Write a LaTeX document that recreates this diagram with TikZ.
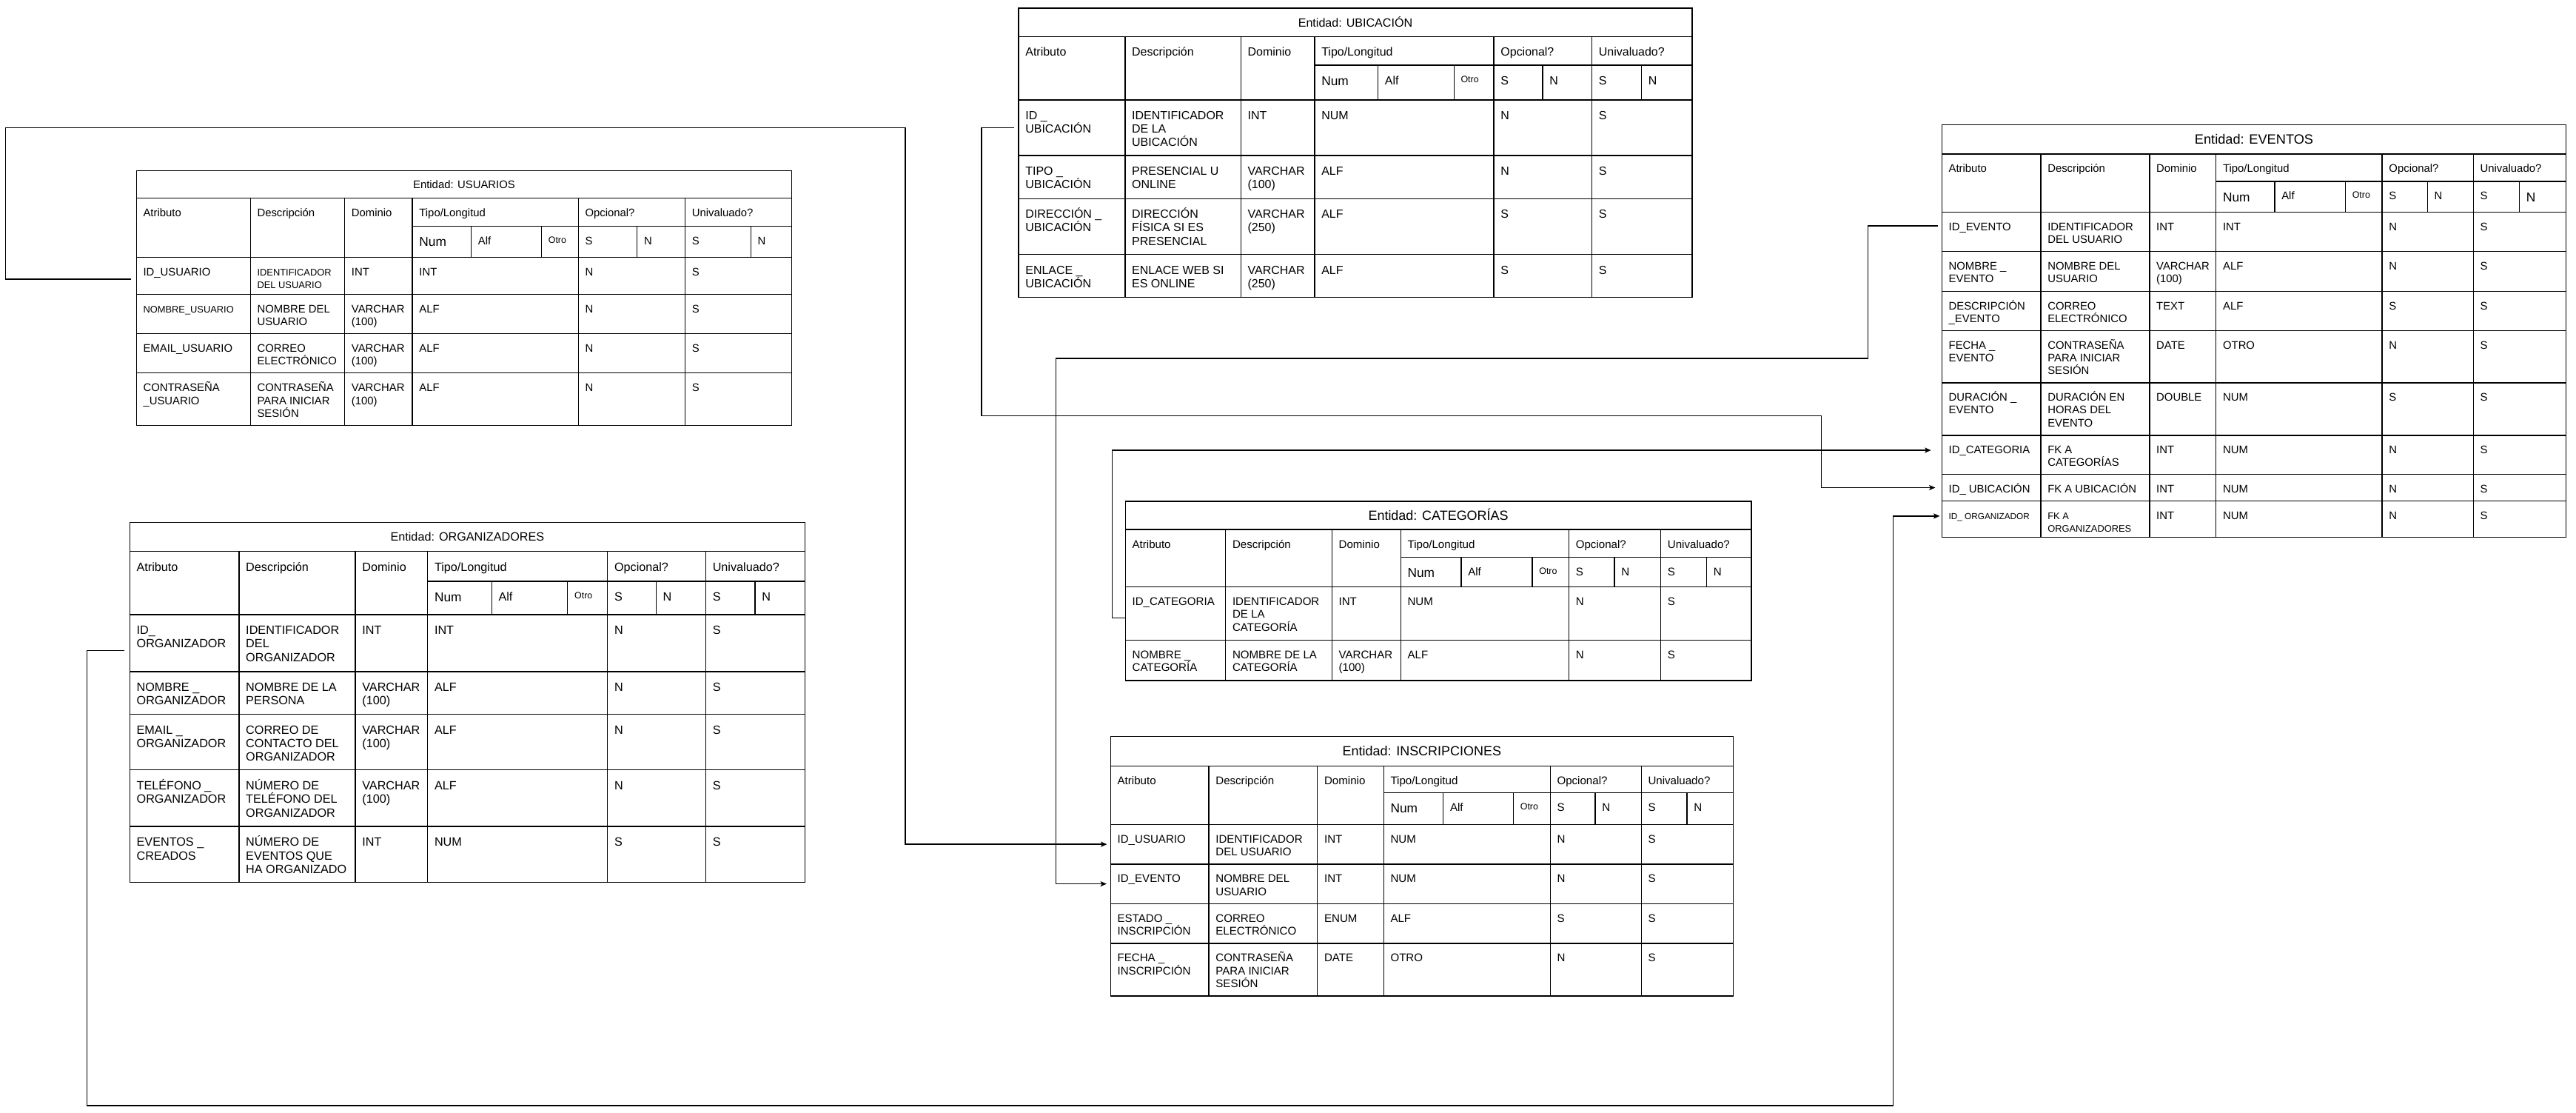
\documentclass[tikz,border=0pt]{standalone}
\usepackage{fontspec}
\setmainfont{Liberation Sans}
\usetikzlibrary{arrows.meta}

% strut that gives every first line the same top
\newcommand\st{\rule{0pt}{.95em}}
% smaller lettering for a few crowded cells
\newcommand\sm{\fontsize{5.8}{6.8}\selectfont}
\newcommand\smo{\fontsize{5.3}{6.3}\selectfont}
\newcommand\numfont{\fontsize{7.8}{9}\selectfont}
\newcommand\otrofont{\fontsize{5.6}{6.5}\selectfont}

% column / row positions of the table being drawn
\newcommand\setcols[7]{\def\XA{#1}\def\XB{#2}\def\XC{#3}\def\XD{#4}\def\XE{#5}\def\XF{#6}\def\XG{#7}}
\newcommand\setsubs[4]{\def\SA{#1}\def\SB{#2}\def\SC{#3}\def\SD{#4}}
\newcommand\setrows[5]{\def\YT{#1}\def\YA{#2}\def\YB{#3}\def\YC{#4}\def\YZ{#5}}
\newcommand\tablefont[3]{\def\tbbody{\fontsize{#1}{#2}\selectfont}\def\tbpad{#3}}

\tikzset{
  grid/.style={line width=0.6pt},
  cell/.style={anchor=north west, inner xsep=4.2pt, inner ysep=\tbpad pt, outer sep=0pt,
               align=left, font=\tbbody, text=black},
  rowbox/.style={anchor=north west, inner sep=0pt, outer sep=0pt},
  tabtitle/.style={anchor=base, inner sep=0pt},
  link/.style={line width=0.6pt, -{Stealth[length=3.8pt,width=3.2pt,inset=0.9pt]}},
}

% frame, title and two header rows of an entity table
\newcommand\entityframe[4]{%
  \draw[grid] (\XA,\YT) rectangle (\XG,\YZ);
  \draw[grid] (\XA,\YA) -- (\XG,\YA) (\XA,\YC) -- (\XG,\YC) (\XD,\YB) -- (\XG,\YB);
  \foreach \cx in {\XB,\XC,\XD,\XE,\XF}{\draw[grid] (\cx,\YA) -- (\cx,\YZ);}
  \foreach \cx in {\SA,\SB,\SC,\SD}{\draw[grid] (\cx,\YB) -- (\cx,\YC);}
  \node[tabtitle] (#1-title) at ({(\XA+\XG)/2},{(\YT+\YA)/2+0.358*#3})
        {\fontsize{#3}{#3}\selectfont Entidad: #2};
  \node[cell] (#1-atr) at (\XA,\YA) {\st Atributo};
  \node[cell] (#1-des) at (\XB,\YA) {\st Descripción};
  \node[cell] (#1-dom) at (\XC,\YA) {\st Dominio};
  \node[cell] (#1-tip) at (\XD,\YA) {\st Tipo/Longitud};
  \node[cell] (#1-opc) at (\XE,\YA) {\st Opcional?};
  \node[cell] (#1-uni) at (\XF,\YA) {\st Univaluado?};
  \node[cell,font=\numfont] (#1-num) at (\XD,\YB) {\st Num};
  \node[cell] (#1-alf) at (\SA,\YB) {\st Alf};
  \node[cell,font=\otrofont] (#1-otr) at (\SB,\YB) {\st Otro};
  \node[cell] (#1-os) at (\XE,\YB) {\st S};
  \node[cell] (#1-on) at (\SC,\YB) {\st N};
  \node[cell] (#1-us) at (\XF,\YB) {\st S};
  \node[cell,#4] (#1-un) at (\SD,\YB) {\st N};
}

% one attribute row: name, top, bottom, then the six cell texts
\newcommand\entrow[9]{%
  \node[rowbox, minimum width={\XG-\XA}, minimum height={#3-#2}] (#1) at (\XA,#2) {};
  \draw[grid] (#1.south west) -- (#1.south east);
  \node[cell] (#1-a) at (\XA,#2) {\st #4};
  \node[cell] (#1-d) at (\XB,#2) {\st #5};
  \node[cell] (#1-m) at (\XC,#2) {\st #6};
  \node[cell] (#1-t) at (\XD,#2) {\st #7};
  \node[cell] (#1-o) at (\XE,#2) {\st #8};
  \node[cell] (#1-u) at (\XF,#2) {\st #9};
}

\begin{document}
\begin{tikzpicture}[x=1pt,y=-1pt]
\fill[white] (0,0) rectangle (1568,676.8);
\useasboundingbox (0,0) rectangle (1568,676.8);

% ---------------- USUARIOS ----------------
\setcols{83}{152.4}{209.8}{251}{352}{417}{482}
\setsubs{286.8}{329.6}{387.8}{457}
\setrows{104}{120.4}{137.6}{156.6}{259}
\tablefont{6.7}{7.8}{4.9}
\entityframe{usr}{USUARIOS}{6.7}{}
\entrow{u1}{156.6}{179}{ID\_USUARIO}{\sm IDENTIFICADOR\\\sm DEL USUARIO}{INT}{INT}{N}{S}
\entrow{u2}{179}{203}{\sm NOMBRE\_USUARIO}{NOMBRE DEL\\USUARIO}{VARCHAR\\(100)}{ALF}{N}{S}
\entrow{u3}{203}{227}{EMAIL\_USUARIO}{CORREO\\ELECTRÓNICO}{VARCHAR\\(100)}{ALF}{N}{S}
\entrow{u4}{227}{259}{CONTRASEÑA\\\_USUARIO}{CONTRASEÑA\\PARA INICIAR\\SESIÓN}{VARCHAR\\(100)}{ALF}{N}{S}

% ---------------- ORGANIZADORES ----------------
\setcols{79}{145.5}{216.3}{260.3}{369.8}{429.6}{490}
\setsubs{299.3}{345.5}{399.3}{459.6}
\setrows{318}{335.5}{353.7}{373.9}{537}
\tablefont{7.3}{8.3}{5.1}
\entityframe{org}{ORGANIZADORES}{7.3}{}
\entrow{o1}{373.9}{408.6}{ID\_\\ORGANIZADOR}{IDENTIFICADOR\\DEL\\ORGANIZADOR}{INT}{INT}{N}{S}
\entrow{o2}{408.6}{434.5}{NOMBRE \_\\ORGANIZADOR}{NOMBRE DE LA\\PERSONA}{VARCHAR\\(100)}{ALF}{N}{S}
\entrow{o3}{434.5}{468.4}{EMAIL \_\\ORGANIZADOR}{CORREO DE\\CONTACTO DEL\\ORGANIZADOR}{VARCHAR\\(100)}{ALF}{N}{S}
\entrow{o4}{468.4}{502.9}{TELÉFONO \_\\ORGANIZADOR}{NÚMERO DE\\TELÉFONO DEL\\ORGANIZADOR}{VARCHAR\\(100)}{ALF}{N}{S}
\entrow{o5}{502.9}{537}{EVENTOS \_\\CREADOS}{NÚMERO DE\\EVENTOS QUE\\HA ORGANIZADO}{INT}{NUM}{S}{S}

% ---------------- UBICACIÓN ----------------
\setcols{620}{684.8}{755.3}{800.2}{909.3}{969}{1030}
\setsubs{838.8}{885}{939}{999.2}
\setrows{5}{22.4}{39.7}{60.8}{181}
\tablefont{7.2}{8.2}{5}
\entityframe{ubi}{UBICACIÓN}{7.25}{}
\entrow{b1}{60.8}{94.6}{ID \_\\UBICACIÓN}{IDENTIFICADOR\\DE LA\\UBICACIÓN}{INT}{NUM}{N}{S}
\entrow{b2}{94.6}{120.9}{TIPO \_\\UBICACIÓN}{PRESENCIAL U\\ONLINE}{VARCHAR\\(100)}{ALF}{N}{S}
\entrow{b3}{120.9}{154.9}{DIRECCIÓN \_\\UBICACIÓN}{DIRECCIÓN\\FÍSICA SI ES\\PRESENCIAL}{VARCHAR\\(250)}{ALF}{S}{S}
\entrow{b4}{154.9}{181}{ENLACE \_\\UBICACIÓN}{ENLACE WEB SI\\ES ONLINE}{VARCHAR\\(250)}{ALF}{S}{S}

% ---------------- EVENTOS ----------------
\setcols{1182}{1242.2}{1308.4}{1348.9}{1450}{1505.5}{1562}
\setsubs{1384.6}{1427.6}{1477.5}{1533.5}
\setrows{76}{93.7}{110.4}{129.2}{327}
\tablefont{6.7}{7.75}{4.8}
\entityframe{evt}{EVENTOS}{8.2}{font=\numfont}
\entrow{e1}{129.2}{153.1}{ID\_EVENTO}{IDENTIFICADOR\\DEL USUARIO}{INT}{INT}{N}{S}
\entrow{e2}{153.1}{177.4}{NOMBRE \_\\EVENTO}{NOMBRE DEL\\USUARIO}{VARCHAR\\(100)}{ALF}{N}{S}
\entrow{e3}{177.4}{201.2}{DESCRIPCIÓN\\\_EVENTO}{CORREO\\ELECTRÓNICO}{TEXT}{ALF}{S}{S}
\entrow{e4}{201.2}{232.9}{FECHA \_\\EVENTO}{CONTRASEÑA\\PARA INICIAR\\SESIÓN}{DATE}{OTRO}{N}{S}
\entrow{e5}{232.9}{264.9}{DURACIÓN \_\\EVENTO}{DURACIÓN EN\\HORAS DEL\\EVENTO}{DOUBLE}{NUM}{S}{S}
\entrow{e6}{264.9}{288.6}{ID\_CATEGORIA}{FK A\\CATEGORÍAS}{INT}{NUM}{N}{S}
\entrow{e7}{288.6}{304.8}{ID\_ UBICACIÓN}{FK A UBICACIÓN}{INT}{NUM}{N}{S}
\entrow{e8}{304.8}{327}{\smo ID\_ ORGANIZADOR}{\sm FK A\\\sm ORGANIZADORES}{INT}{NUM}{N}{S}

% ---------------- CATEGORÍAS ----------------
\setcols{685}{746}{810.7}{852.6}{955}{1010.9}{1066}
\setsubs{889.4}{932.7}{982.7}{1038.8}
\setrows{305}{322.2}{339}{357}{414}
\tablefont{6.8}{7.8}{4.9}
\entityframe{cat}{CATEGORÍAS}{8.1}{}
\entrow{c1}{357}{389.5}{ID\_CATEGORIA}{IDENTIFICADOR\\DE LA\\CATEGORÍA}{INT}{NUM}{N}{S}
\entrow{c2}{389.5}{414}{NOMBRE \_\\CATEGORÍA}{NOMBRE DE LA\\CATEGORÍA}{VARCHAR\\(100)}{ALF}{N}{S}

% ---------------- INSCRIPCIONES ----------------
\setcols{676}{735.8}{801.9}{842.2}{943.6}{999}{1055}
\setsubs{878.5}{921.2}{971}{1026.9}
\setrows{448}{466.1}{482.4}{501.6}{606}
\tablefont{6.8}{7.8}{4.8}
\entityframe{ins}{INSCRIPCIONES}{8.1}{}
\entrow{i1}{501.6}{525.8}{ID\_USUARIO}{IDENTIFICADOR\\DEL USUARIO}{INT}{NUM}{N}{S}
\entrow{i2}{525.8}{549.8}{ID\_EVENTO}{NOMBRE DEL\\USUARIO}{INT}{NUM}{N}{S}
\entrow{i3}{549.8}{574}{ESTADO \_\\INSCRIPCIÓN}{CORREO\\ELECTRÓNICO}{ENUM}{ALF}{S}{S}
\entrow{i4}{574}{606}{FECHA \_\\INSCRIPCIÓN}{CONTRASEÑA\\PARA INICIAR\\SESIÓN}{DATE}{OTRO}{N}{S}

% ---------------- foreign-key links ----------------
\coordinate (u1out) at ([yshift=-2pt]u1.west);
\coordinate (o1out) at ([yshift=-4.6pt]o1.west);
\coordinate (e8in)  at ([yshift=1.9pt]e8.west);
\coordinate (c1out) at ([yshift=-2.9pt]c1.west);
\coordinate (e6in)  at ([yshift=2.8pt]e6.west);
\coordinate (e1out) at ([yshift=3.8pt]e1.west);

\draw[link, shorten <=3.1pt, shorten >=2.2pt]
  (u1out) -| (3.3,77.6) -| (551,0 |- i1.west) -- (i1.west);
\draw[link, shorten <=3.2pt, shorten >=1.3pt]
  (o1out) -| (53,672.7) -| (1152.3,0 |- e8in) -- (e8in);
\draw[link, shorten <=2.7pt, shorten >=4pt]
  (b1.west) -| (597.4,253.1) -| (1108.5,0 |- e7.west) -- (e7.west);
\draw[link, shorten >=6.6pt]
  (c1out) -| (676.9,0 |- e6in) -- (e6in);
\draw[link, shorten <=2.6pt, shorten >=2.4pt]
  (e1out) -| (1137,218.1) -| (642.6,0 |- i2.west) -- (i2.west);

\end{tikzpicture}
\end{document}
